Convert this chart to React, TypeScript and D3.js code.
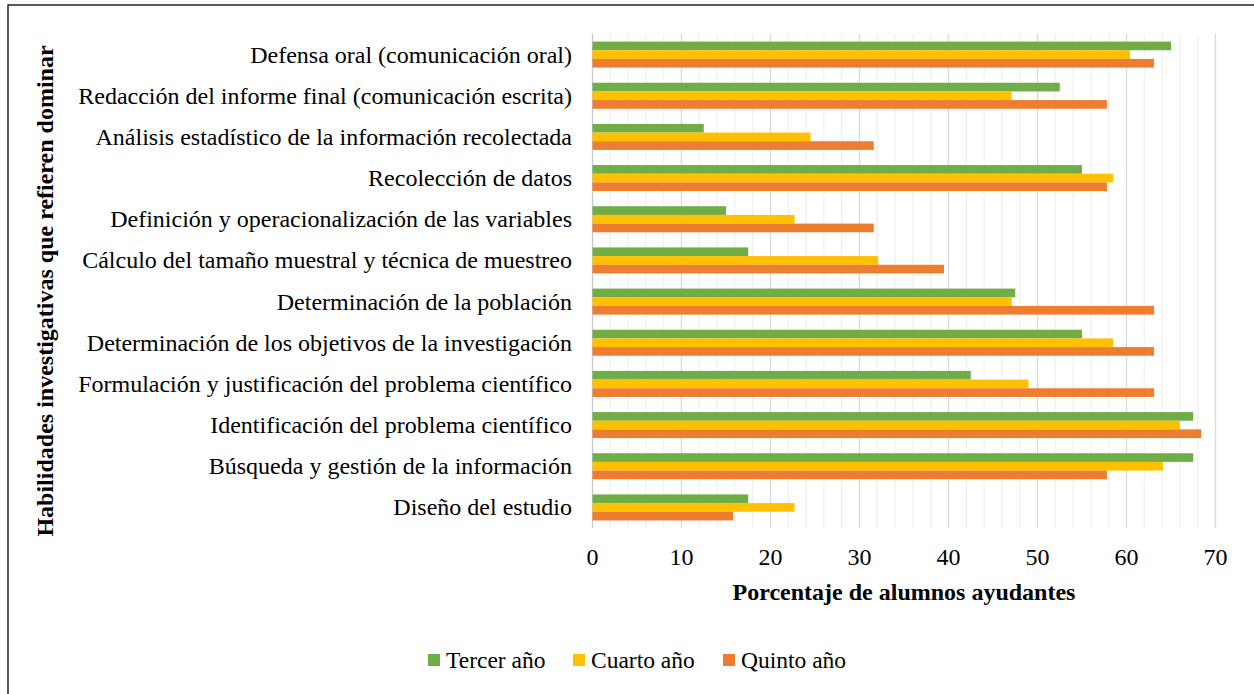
import * as d3 from "d3";

const categories = [
  "Defensa oral (comunicación oral)",
  "Redacción del informe final (comunicación escrita)",
  "Análisis estadístico de la información recolectada",
  "Recolección de datos",
  "Definición y operacionalización de las variables",
  "Cálculo del tamaño muestral y técnica de muestreo",
  "Determinación de la población",
  "Determinación de los objetivos de la investigación",
  "Formulación y justificación del problema científico",
  "Identificación del problema científico",
  "Búsqueda y gestión de la información",
  "Diseño del estudio",
];

const seriesNames = ["Tercer año", "Cuarto año", "Quinto año"];
const tercer = [65.0, 52.5, 12.5, 55.0, 15.0, 17.5, 47.5, 55.0, 42.5, 67.5, 67.5, 17.5];
const cuarto = [60.4, 47.1, 24.5, 58.5, 22.7, 32.1, 47.1, 58.5, 49.0, 66.0, 64.1, 22.7];
const quinto = [63.1, 57.8, 31.6, 57.8, 31.6, 39.5, 63.1, 63.1, 63.1, 68.4, 57.8, 15.8];
const xTicks = [0, 10, 20, 30, 40, 50, 60, 70];

const colors = ["#70AD47", "#FFC000", "#ED7D31"];
const font = "'Liberation Serif', 'Times New Roman', serif";

const App = () => {
  const width = 1254;
  const height = 694;
  const values = [tercer, cuarto, quinto];

  const x = d3.scaleLinear().domain([0, 70]).range([592.5, 1215.5]);
  const y = d3
    .scaleBand()
    .domain(categories)
    .range([34, 528])
    .paddingInner(0.368)
    .paddingOuter(0.184);
  const sub = d3
    .scaleBand()
    .domain(seriesNames)
    .range([0, y.bandwidth()]);

  const minorTicks = d3.range(0, 71, 2).filter((t) => t % 10 !== 0);

  // legend positions (square left edge)
  const legendX = [428, 573, 723];

  return (
    <svg
      width={width}
      height={height}
      style={{ position: "absolute", left: 0, top: 0, background: "#fff" }}
      fontFamily={font}
    >
      <rect x={8} y={5} width={1260} height={700} fill="#fff" stroke="#000" strokeWidth={1.3} />

      {minorTicks.map((t) => (
        <line key={"m" + t} x1={x(t)} x2={x(t)} y1={34} y2={528} stroke="#f0f0f0" strokeWidth={1.3} />
      ))}
      {xTicks.map((t) => (
        <line
          key={"g" + t}
          x1={x(t)}
          x2={x(t)}
          y1={34}
          y2={528}
          stroke={t === 0 ? "#c8c8c8" : "#d9d9d9"}
          strokeWidth={1.3}
        />
      ))}

      {categories.map((c, i) => (
        <g key={c}>
          {seriesNames.map((s, j) => (
            <rect
              key={s}
              x={x(0)}
              y={(y(c) || 0) + (sub(s) || 0)}
              width={x(values[j][i]) - x(0)}
              height={sub.bandwidth()}
              fill={colors[j]}
            />
          ))}
          <text
            x={572}
            y={(y(c) || 0) + y.bandwidth() / 2}
            textAnchor="end"
            dominantBaseline="central"
            fontSize={24}
            fill="#000"
          >
            {c}
          </text>
        </g>
      ))}

      {xTicks.map((t) => (
        <text
          key={"t" + t}
          x={x(t)}
          y={557}
          textAnchor="middle"
          dominantBaseline="central"
          fontSize={24}
          fill="#000"
        >
          {t}
        </text>
      ))}

      <text
        x={904}
        y={592}
        textAnchor="middle"
        dominantBaseline="central"
        fontSize={24}
        fontWeight="bold"
        fill="#000"
      >
        Porcentaje de alumnos ayudantes
      </text>

      <text
        transform={`translate(45,291) rotate(-90)`}
        textAnchor="middle"
        dominantBaseline="central"
        fontSize={24}
        fontWeight="bold"
        fill="#000"
      >
        Habilidades investigativas que refieren dominar
      </text>

      {seriesNames.map((s, j) => (
        <g key={"l" + s}>
          <rect x={legendX[j]} y={654} width={12} height={12} fill={colors[j]} />
          <text
            x={legendX[j] + 18}
            y={660}
            dominantBaseline="central"
            fontSize={23.5}
            fill="#000"
          >
            {s}
          </text>
        </g>
      ))}
    </svg>
  );
};

export default App;
